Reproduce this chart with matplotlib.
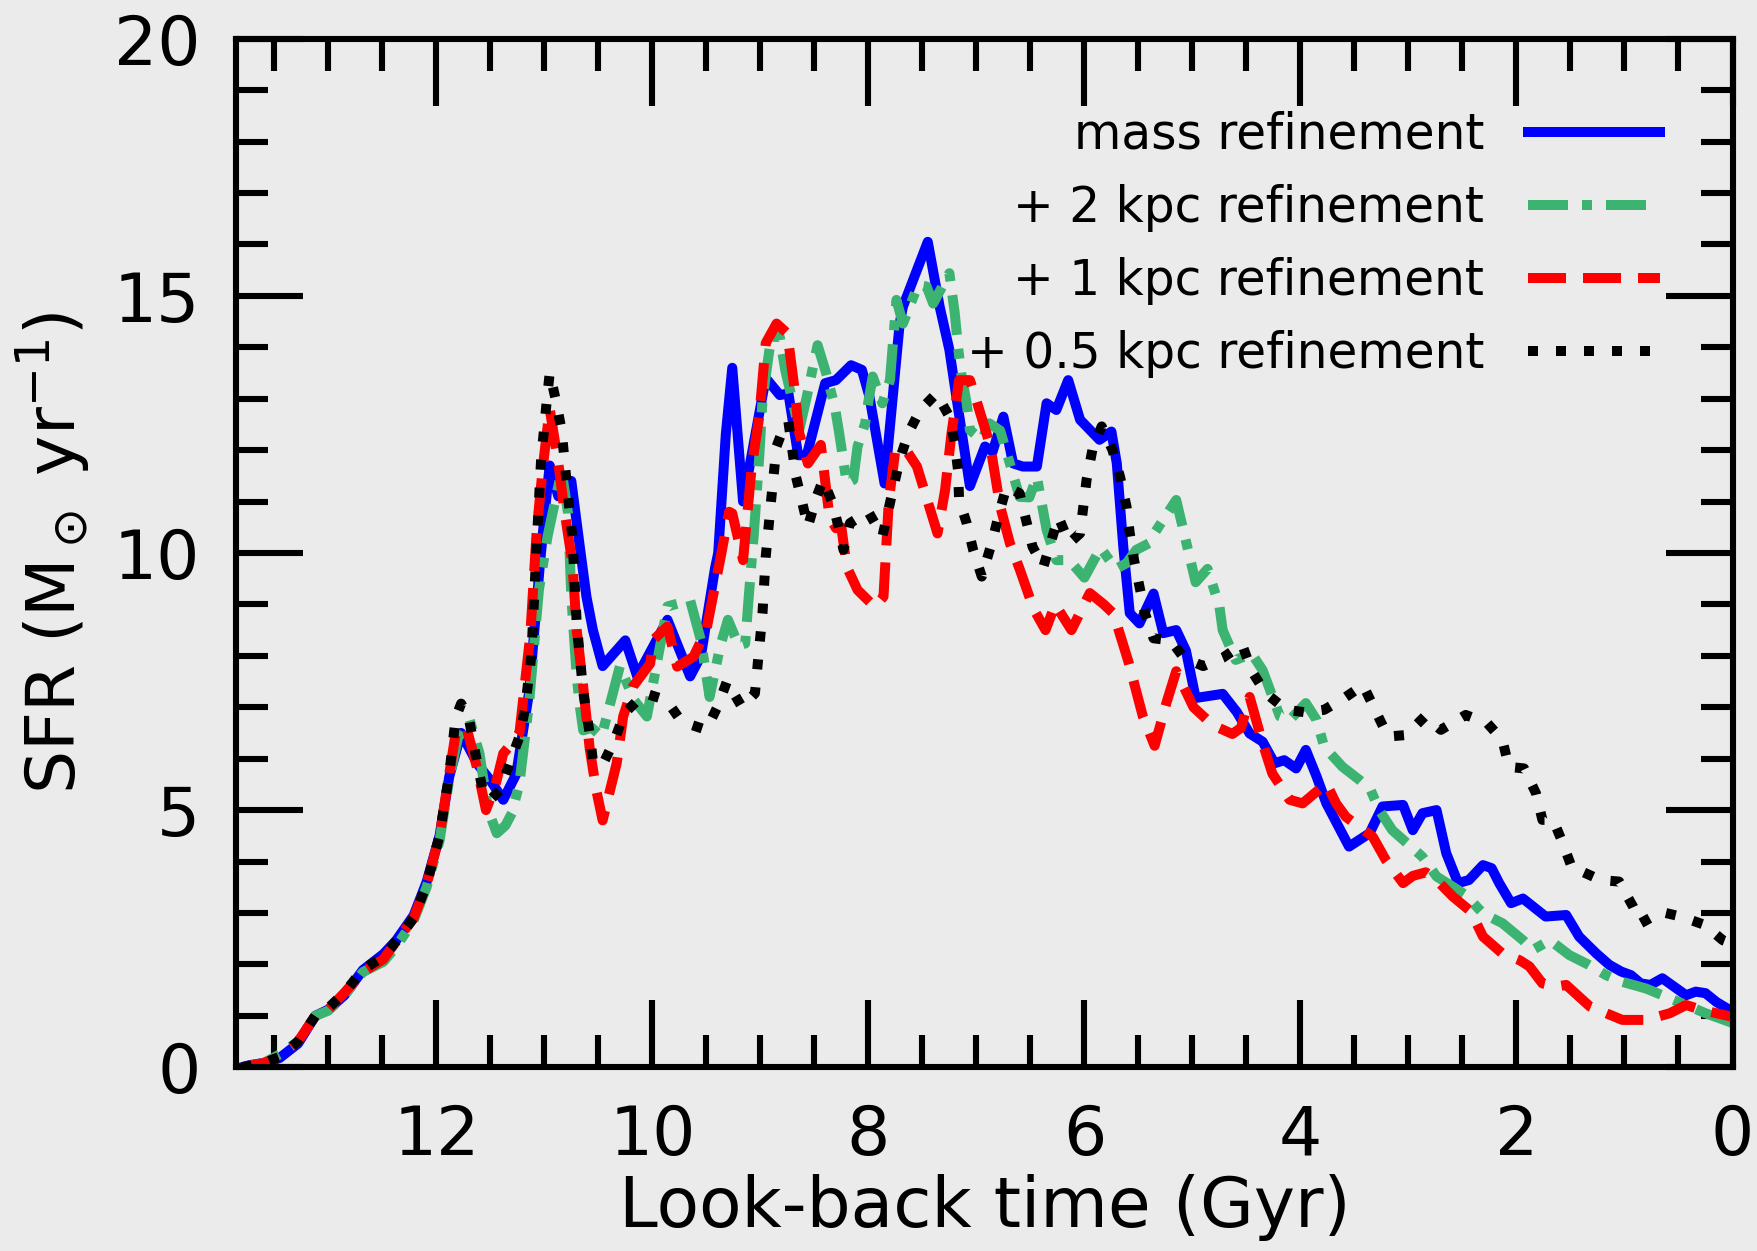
import matplotlib
matplotlib.use("Agg")
import matplotlib.pyplot as plt
from matplotlib.ticker import MultipleLocator

# look-back time (Gyr) and SFR (Msun/yr) for each run
t_mass = [13.80, 13.73, 13.55, 13.45, 13.28, 13.12, 13.00, 12.85, 12.68, 12.49,
          12.37, 12.21, 12.09, 11.97, 11.88, 11.77, 11.62, 11.50, 11.38, 11.26,
          11.14, 11.04, 10.98, 10.95, 10.87, 10.75, 10.67, 10.61, 10.55, 10.46,
          10.25, 10.14, 9.86, 9.65, 9.55, 9.42, 9.39, 9.32, 9.26, 9.16,
          8.95, 8.82, 8.74, 8.65, 8.57, 8.40, 8.30, 8.16, 8.06, 7.99,
          7.85, 7.71, 7.68, 7.45, 7.34, 7.25, 7.19, 7.06, 6.92, 6.85,
          6.75, 6.66, 6.57, 6.44, 6.35, 6.26, 6.15, 6.04, 5.86, 5.75,
          5.70, 5.64, 5.58, 5.49, 5.36, 5.27, 5.15, 5.06, 4.97, 4.72,
          4.59, 4.47, 4.35, 4.24, 4.15, 4.04, 3.95, 3.85, 3.76, 3.55,
          3.36, 3.24, 3.05, 2.96, 2.87, 2.74, 2.65, 2.54, 2.44, 2.31,
          2.23, 2.16, 2.05, 1.94, 1.73, 1.54, 1.42, 1.26, 1.14, 1.03,
          0.94, 0.85, 0.76, 0.65, 0.43, 0.34, 0.25, 0.15, 0.00]
sfr_mass = [0.00, 0.04, 0.10, 0.18, 0.46, 1.00, 1.12, 1.40, 1.89, 2.20,
            2.47, 2.95, 3.60, 4.50, 5.65, 6.50, 5.90, 5.58, 5.20, 5.70,
            7.30, 9.80, 11.10, 11.70, 11.10, 11.40, 10.10, 9.15, 8.50, 7.80,
            8.30, 7.60, 8.70, 7.60, 8.00, 9.70, 10.00, 12.30, 13.60, 11.00,
            13.40, 13.07, 13.10, 11.90, 11.90, 13.30, 13.36, 13.65, 13.56, 13.04,
            11.35, 14.46, 14.79, 16.05, 14.79, 13.95, 13.10, 11.30, 12.07, 11.97,
            12.65, 11.74, 11.68, 11.68, 12.91, 12.78, 13.36, 12.59, 12.20, 12.36,
            11.74, 10.12, 8.83, 8.63, 9.21, 8.44, 8.50, 8.10, 7.18, 7.26,
            6.91, 6.49, 6.33, 5.91, 5.97, 5.81, 6.17, 5.65, 5.13, 4.29,
            4.55, 5.07, 5.10, 4.61, 4.94, 5.00, 4.16, 3.58, 3.64, 3.93,
            3.87, 3.58, 3.19, 3.28, 2.93, 2.96, 2.54, 2.21, 1.99, 1.86,
            1.79, 1.63, 1.60, 1.73, 1.40, 1.47, 1.44, 1.27, 1.08]

t_2kpc = [13.80, 13.60, 13.45, 13.28, 13.12, 13.00, 12.85, 12.68, 12.49, 12.37,
          12.21, 12.09, 11.97, 11.88, 11.80, 11.69, 11.60, 11.52, 11.44, 11.36,
          11.30, 11.23, 11.14, 11.05, 10.97, 10.84, 10.78, 10.75, 10.70, 10.67,
          10.64, 10.56, 10.47, 10.30, 10.17, 10.05, 9.86, 9.65, 9.55, 9.47,
          9.37, 9.30, 9.20, 9.14, 9.11, 9.06, 9.01, 8.98, 8.90, 8.82, 8.77, 8.64,
          8.57, 8.47, 8.39, 8.31, 8.27, 8.20, 8.14, 8.10, 8.03, 8.00,
          7.96, 7.87, 7.80, 7.74, 7.68, 7.54, 7.46, 7.40, 7.25, 7.20,
          7.17, 7.14, 7.09, 7.06, 6.95, 6.88, 6.78, 6.69, 6.60, 6.51,
          6.44, 6.35, 6.26, 6.14, 6.00, 5.85, 5.71, 5.61, 5.52, 5.40,
          5.35, 5.15, 4.97, 4.86, 4.75, 4.72, 4.60, 4.45, 4.35, 4.19,
          4.10, 3.95, 3.85, 3.78, 3.61, 3.45, 3.35, 3.27, 3.15, 2.87,
          2.74, 2.47, 2.31, 2.13, 1.94, 1.85, 1.69, 1.51, 1.33, 1.17,
          1.02, 0.80, 0.58, 0.43, 0.25, 0.00]
sfr_2kpc = [0.00, 0.08, 0.25, 0.50, 1.00, 1.10, 1.40, 1.85, 2.05, 2.35,
            2.85, 3.50, 4.40, 5.60, 6.40, 6.75, 6.10, 5.00, 4.55, 4.70,
            4.94, 5.52, 7.10, 9.28, 10.32, 11.60, 10.77, 9.15, 7.60, 7.00,
            6.55, 6.60, 6.43, 7.80, 7.14, 6.82, 8.96, 9.08, 8.30, 7.20,
            8.20, 8.70, 8.20, 8.24, 9.08, 10.38, 11.87, 12.97, 14.20, 14.20, 13.56, 12.39,
            13.04, 14.04, 13.49, 12.84, 12.33, 11.35, 11.42, 12.07, 12.52, 12.94,
            13.43, 12.91, 13.36, 14.92, 14.46, 15.21, 15.18, 14.85, 15.44, 14.66,
            14.01, 13.49, 12.91, 12.39, 12.20, 12.52, 12.38, 11.74, 11.09, 11.08,
            11.48, 10.45, 9.86, 9.86, 9.52, 10.10, 9.69, 9.80, 10.06, 10.19,
            10.39, 11.03, 9.43, 9.69, 8.96, 8.50, 7.92, 8.04, 7.72, 6.82,
            6.75, 7.08, 6.75, 6.23, 5.84, 5.58, 5.39, 5.00, 4.61, 4.09,
            3.71, 3.35, 2.99, 2.80, 2.47, 2.28, 2.47, 2.18, 1.99, 1.79,
            1.66, 1.53, 1.34, 1.21, 1.05, 0.86]

t_1kpc = [13.80, 13.60, 13.45, 13.28, 13.12, 13.00, 12.85, 12.68, 12.49, 12.37,
          12.21, 12.09, 11.97, 11.88, 11.82, 11.72, 11.62, 11.54, 11.45, 11.38,
          11.30, 11.23, 11.13, 11.07, 11.01, 10.95, 10.87, 10.81, 10.74, 10.70,
          10.64, 10.58, 10.52, 10.46, 10.33, 10.27, 10.18, 10.02, 9.99, 9.86,
          9.77, 9.62, 9.50, 9.36, 9.29, 9.26, 9.16, 9.08, 9.01, 8.95,
          8.85, 8.75, 8.69, 8.64, 8.56, 8.44, 8.36, 8.30, 8.25, 8.20,
          8.10, 7.94, 7.86, 7.81, 7.75, 7.65, 7.55, 7.36, 7.29, 7.23,
          7.16, 7.06, 7.00, 6.87, 6.78, 6.69, 6.60, 6.47, 6.36, 6.27,
          6.12, 5.95, 5.82, 5.73, 5.59, 5.46, 5.35, 5.24, 5.15, 4.99,
          4.81, 4.63, 4.55, 4.47, 4.35, 4.26, 4.10, 3.98, 3.76, 3.67,
          3.58, 3.33, 3.21, 3.05, 2.96, 2.84, 2.74, 2.59, 2.44, 2.37,
          2.31, 2.13, 1.97, 1.88, 1.76, 1.63, 1.54, 1.32, 1.17, 1.02,
          0.80, 0.58, 0.43, 0.28, 0.00]
sfr_1kpc = [0.00, 0.08, 0.20, 0.50, 1.00, 1.12, 1.45, 1.85, 2.10, 2.45,
            2.90, 3.55, 4.50, 5.70, 6.50, 6.60, 5.80, 5.00, 5.50, 6.10,
            6.30, 6.50, 8.40, 10.44, 11.74, 12.80, 11.74, 10.77, 9.80, 8.50,
            7.40, 6.20, 5.40, 4.80, 5.91, 6.82, 7.40, 7.85, 8.31, 8.57,
            7.79, 7.98, 8.50, 10.00, 10.80, 10.77, 9.86, 11.68, 12.65, 14.08,
            14.46, 14.27, 13.30, 12.33, 11.74, 12.10, 10.70, 10.48, 10.50, 9.73,
            9.28, 8.95, 9.15, 11.03, 12.00, 12.00, 11.68, 10.38, 11.22, 12.33,
            13.36, 13.36, 12.97, 12.07, 10.91, 10.19, 9.69, 8.91, 8.50, 9.00,
            8.50, 9.22, 9.00, 8.82, 7.87, 6.83, 6.25, 7.09, 7.70, 7.00,
            6.65, 6.48, 6.60, 7.20, 6.30, 5.71, 5.20, 5.13, 5.52, 5.13,
            4.87, 4.48, 4.03, 3.58, 3.72, 3.79, 3.64, 3.32, 3.06, 2.80,
            2.54, 2.21, 2.08, 1.96, 1.63, 1.57, 1.60, 1.18, 1.05, 0.92,
            0.92, 1.05, 1.21, 1.11, 0.98]

t_05kpc = [13.80, 13.60, 13.45, 13.28, 13.12, 13.00, 12.85, 12.68, 12.49, 12.37,
           12.21, 12.09, 11.97, 11.88, 11.82, 11.77, 11.70, 11.62, 11.57, 11.50,
           11.41, 11.32, 11.23, 11.18, 11.12, 11.07, 11.03, 10.98, 10.95, 10.89,
           10.84, 10.79, 10.74, 10.70, 10.64, 10.58, 10.55, 10.46, 10.35, 10.26,
           10.07, 9.87, 9.73, 9.50, 9.39, 9.31, 9.17, 9.05, 8.98, 8.95,
           8.90, 8.85, 8.77, 8.74, 8.67, 8.61, 8.56, 8.48, 8.42, 8.33,
           8.27, 8.23, 8.17, 8.00, 7.87, 7.71, 7.63, 7.52, 7.37, 7.25,
           7.20, 7.17, 7.16, 7.09, 7.03, 6.95, 6.85, 6.79, 6.72, 6.60,
           6.54, 6.48, 6.38, 6.24, 6.14, 6.04, 5.98, 5.92, 5.84, 5.74,
           5.67, 5.61, 5.58, 5.54, 5.49, 5.44, 5.36, 5.20, 5.08, 4.90,
           4.72, 4.54, 4.45, 4.32, 4.13, 3.95, 3.78, 3.58, 3.42, 3.30,
           3.19, 3.02, 2.85, 2.70, 2.47, 2.27, 2.13, 2.07, 1.93, 1.82,
           1.76, 1.66, 1.57, 1.48, 1.39, 1.22, 1.05, 0.92, 0.85, 0.66,
           0.48, 0.26, 0.09, 0.00]
sfr_05kpc = [0.00, 0.08, 0.20, 0.50, 1.00, 1.15, 1.45, 1.90, 2.15, 2.45,
             2.90, 3.55, 4.50, 5.70, 6.80, 7.07, 6.80, 5.90, 5.39, 5.20,
             5.39, 5.91, 6.43, 6.95, 8.00, 10.19, 11.80, 12.90, 13.50, 12.94,
             12.39, 11.30, 10.30, 8.63, 7.30, 6.49, 5.95, 5.88, 6.36, 6.88,
             7.27, 7.14, 6.72, 6.56, 7.04, 7.50, 7.00, 7.27, 8.83, 9.93,
             11.03, 12.07, 12.52, 12.55, 11.48, 10.96, 10.51, 11.09, 11.42, 10.96,
             10.45, 10.06, 10.58, 10.80, 10.32, 11.81, 12.33, 12.78, 13.10, 12.65,
             12.13, 11.61, 11.03, 10.58, 10.06, 9.54, 10.25, 10.77, 11.29, 11.16,
             10.64, 10.12, 9.73, 10.70, 10.19, 10.38, 11.42, 12.07, 12.46, 12.00,
             11.48, 10.90, 10.38, 9.86, 9.34, 8.83, 8.34, 8.30, 7.96, 7.80,
             7.96, 8.22, 7.70, 7.27, 6.95, 6.90, 6.95, 7.20, 7.43, 6.91,
             6.43, 6.46, 6.82, 6.56, 6.85, 6.69, 6.36, 5.84, 5.81, 5.33,
             4.81, 4.81, 4.35, 3.84, 3.80, 3.64, 3.61, 3.12, 2.80, 3.02,
             2.93, 2.77, 2.47, 2.40]

labels = ['mass refinement', '+ 2 kpc refinement',
          '+ 1 kpc refinement', '+ 0.5 kpc refinement']

bg = '#ebebeb'
lw = 3.6

fig = plt.figure(figsize=(8.79, 6.255), dpi=200, facecolor=bg)
ax = fig.add_axes([0.1345, 0.1469, 0.851, 0.8222])
ax.set_facecolor(bg)

ax.plot(t_mass, sfr_mass, color='#0000ff', lw=lw, ls='-', label=labels[0])
ax.plot(t_2kpc, sfr_2kpc, color='#3cb371', lw=lw, ls=(0, (4.0, 1.4, 1.0, 1.4)),
        label=labels[1])
ax.plot(t_1kpc, sfr_1kpc, color='#ff0000', lw=lw, ls=(0, (3.8, 1.7)), label=labels[2])
ax.plot(t_05kpc, sfr_05kpc, color='black', lw=lw, ls=(0, (1.0, 1.8)), label=labels[3])

ax.set_xlim(13.85, 0)
ax.set_ylim(0, 20)
ax.xaxis.set_major_locator(MultipleLocator(2))
ax.xaxis.set_minor_locator(MultipleLocator(0.5))
ax.yaxis.set_major_locator(MultipleLocator(5))
ax.yaxis.set_minor_locator(MultipleLocator(1))

ax.tick_params(which='both', direction='in', top=True, right=True,
               width=2.2, labelsize=24.5, pad=13)
ax.tick_params(which='major', length=24)
ax.tick_params(which='minor', length=11.5)
for s in ax.spines.values():
    s.set_linewidth(2.2)

ax.set_xlabel('Look-back time (Gyr)', fontsize=25, labelpad=1.5)
ax.set_ylabel(r'SFR (M$_\odot$ yr$^{-1}$)', fontsize=24.5, labelpad=8)

ax.legend(loc='upper right', bbox_to_anchor=(0.9515, 0.93), frameon=False,
          markerfirst=False, fontsize=17.5, handlelength=2.72, handletextpad=0.9,
          labelspacing=0.52, borderaxespad=0, borderpad=0)

fig.savefig('out.png', dpi=200, facecolor=bg)
